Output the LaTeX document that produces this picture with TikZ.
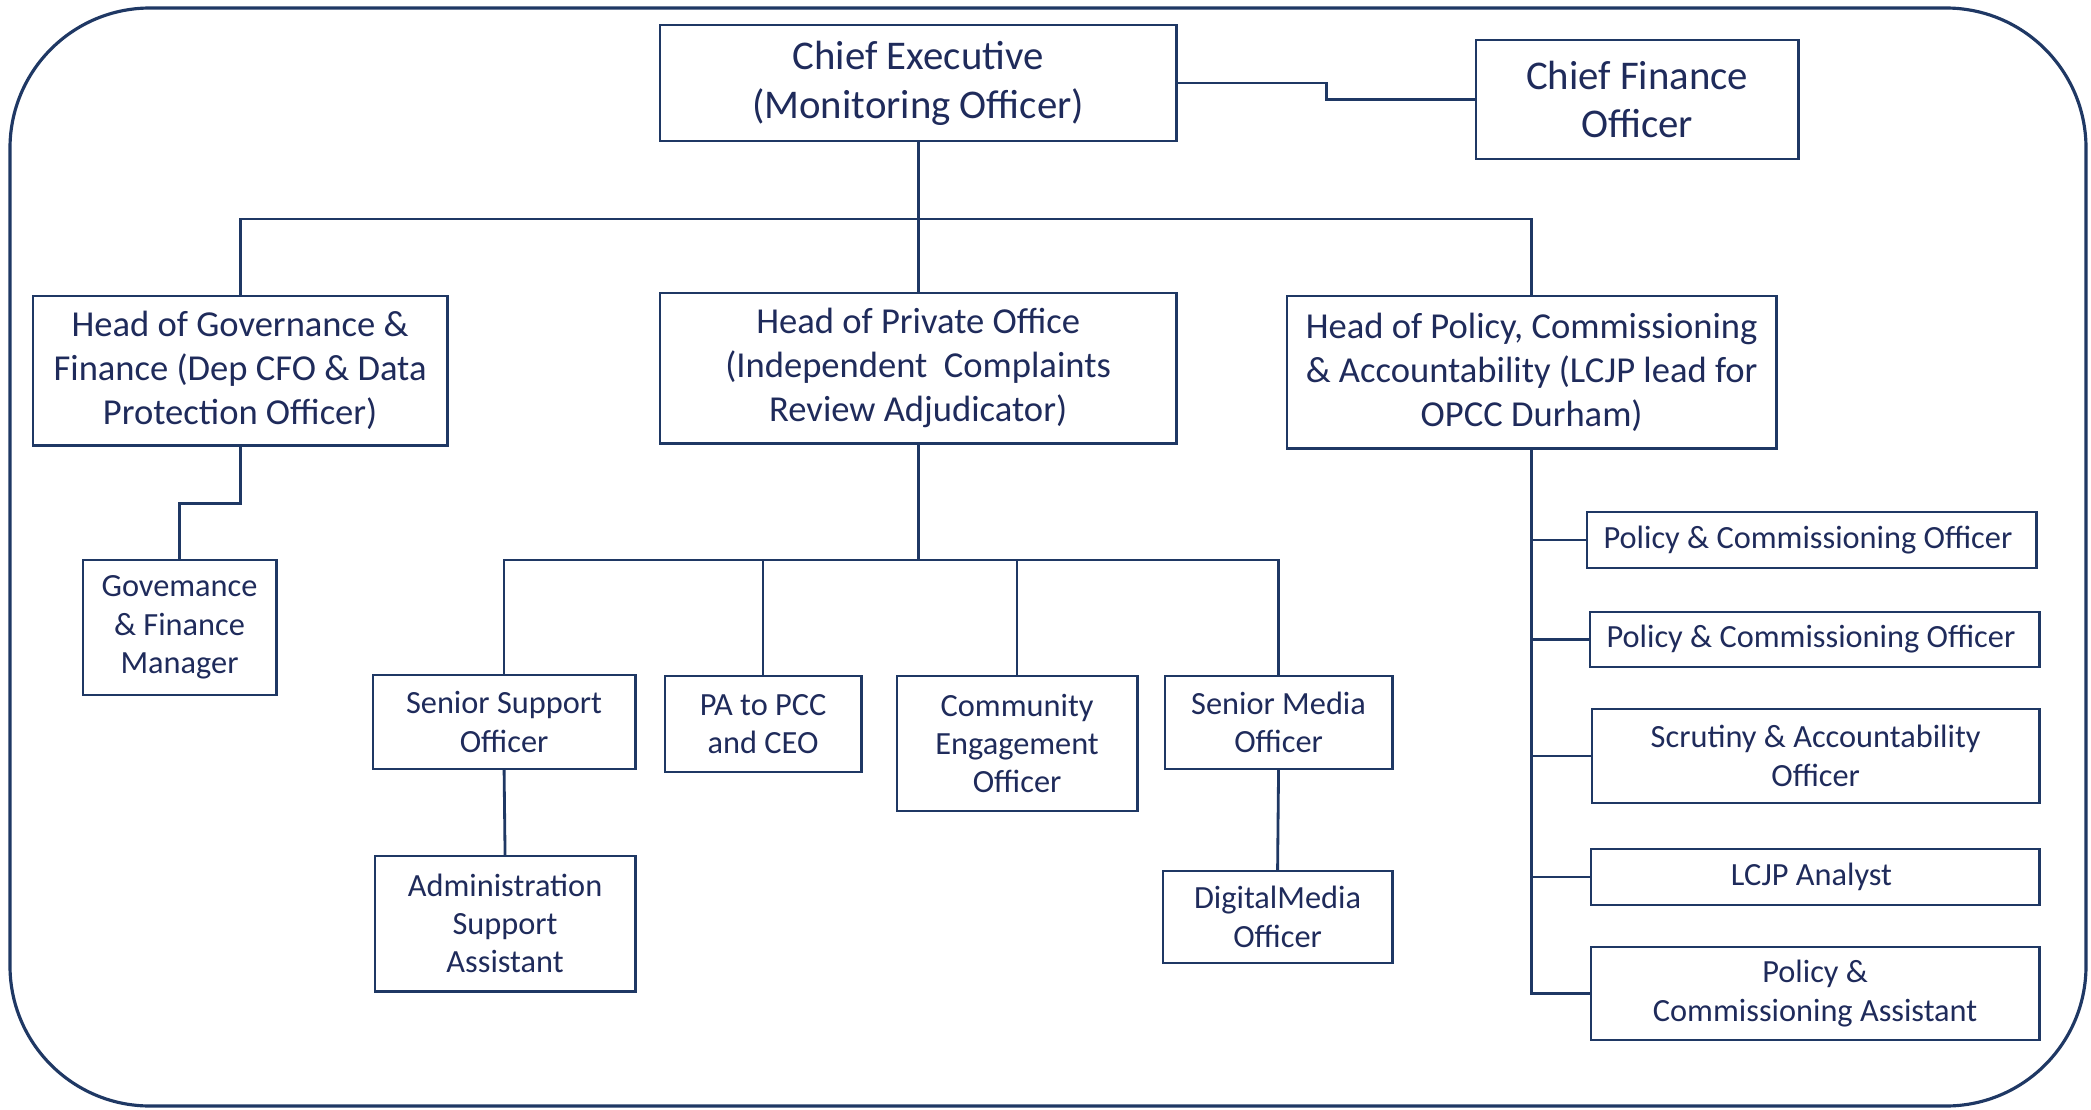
\documentclass[tikz,border=0pt]{standalone}
\usepackage{fontspec}
\setmainfont{Carlito}
\usetikzlibrary{calc,positioning}
\definecolor{navy}{HTML}{1F3864}
\definecolor{ink}{HTML}{1F2B5B}

\begin{document}
\begin{tikzpicture}[
        x=0.01cm,y=-0.01cm,
        post/.style={
          draw=navy,line width=0.8pt,
          text=ink,align=center,
          anchor=north west,
          inner sep=1pt,outer sep=0pt
        },
        chief/.style={font=\fontsize{11.6}{13.9}\selectfont},
        head/.style={font=\fontsize{10.4}{12.5}\selectfont},
        staff/.style={font=\fontsize{9.2}{10.9}\selectfont},
        link/.style={draw=navy,line width=0.8pt},
      ]
      \useasboundingbox (0,0) rectangle (2091,1109);
      \draw[navy,line width=0.9pt,rounded corners=1.4cm] (10,8) rectangle (2086,1106);

      % top row
      \node[post,chief,minimum width=5.16cm,minimum height=1.16cm] (ce) at (660,25) {
        Chief Executive\\(Monitoring Officer)
      };
      \node[post,chief,minimum width=3.22cm,minimum height=1.19cm] (cfo) at (1476,40) {
        Chief Finance\\Officer
      };

      % heads
      \node[post,head,minimum width=4.14cm,minimum height=1.49cm] (hog) at (33,296) {
        Head of Governance \&\\Finance (Dep CFO \& Data\\Protection Officer)
      };
      \node[post,head,minimum width=5.16cm,minimum height=1.50cm] (hpo) at (660,293) {
        Head of Private Office\\(Independent\ \ Complaints\\Review Adjudicator)
      };
      \node[post,head,minimum width=4.89cm,minimum height=1.52cm] (hop) at (1287,296) {
        Head of Policy, Commissioning\\\& Accountability (LCJP lead for\\OPCC Durham)
      };

      % governance
      \node[post,staff,minimum width=1.93cm,minimum height=1.35cm] (gfm) at (83,560) {
        Govemance\\\& Finance\\Manager
      };

      % private office
      \node[post,staff,minimum width=2.62cm,minimum height=0.94cm] (sso) at (373,675) {
        Senior Support\\Officer
      };
      \node[post,staff,minimum width=1.96cm,minimum height=0.96cm] (pa) at (665,676) {
        PA to PCC\\and CEO
      };
      \node[post,staff,minimum width=2.40cm,minimum height=1.35cm] (ceng) at (897,676) {
        Community\\Engagement\\Officer
      };
      \node[post,staff,minimum width=2.27cm,minimum height=0.93cm] (smo) at (1165,676) {
        Senior Media\\Officer
      };
      \node[post,staff,minimum width=2.60cm,minimum height=1.35cm] (asa) at (375,856) {
        Administration\\Support\\Assistant
      };
      \node[post,staff,minimum width=2.29cm,minimum height=0.92cm] (dmo) at (1163,871) {
        DigitalMedia\\Officer
      };

      % policy
      \node[post,staff,minimum width=4.49cm,minimum height=0.56cm] (pco1) at (1587,512) {
        Policy \& Commissioning Officer
      };
      \node[post,staff,minimum width=4.49cm,minimum height=0.55cm] (pco2) at (1590,612) {
        Policy \& Commissioning Officer
      };
      \node[post,staff,minimum width=4.47cm,minimum height=0.94cm] (sao) at (1592,709) {
        Scrutiny \& Accountability\\Officer
      };
      \node[post,staff,minimum width=4.48cm,minimum height=0.56cm] (lcjp) at (1591,849) {
        LCJP Analyst
      };
      \node[post,staff,minimum width=4.48cm,minimum height=0.93cm] (pca) at (1591,947) {
        Policy \&\\Commissioning Assistant
      };

      \coordinate (bus) at (ce.south |- 0,219);
      \coordinate (pbus) at (hpo.south |- 0,560);

      \draw[link] (ce.east) -- ++(150,0) |- (cfo.west);
      \draw[link] (ce.south) -- (hpo.north);
      \draw[link] (hog.north) |- (bus) -| (hop.north);
      \draw[link] (hog.south) -- ++(0,58) -| (gfm.north);

      \draw[link] (hpo.south) -- (pbus);
      \draw[link] (sso.north) |- (pbus) -| (smo.north);
      \draw[link] (pa.north) -- (pa.north |- pbus);
      \draw[link] (ceng.north) -- (ceng.north |- pbus);
      \draw[link] (sso.south) -- (asa.north);
      \draw[link] (smo.south) -- (dmo.north);

      \draw[link] (hop.south) |- (pca.west);
      \draw[link] (hop.south |- pco1.west) -- (pco1.west);
      \draw[link] (hop.south |- pco2.west) -- (pco2.west);
      \draw[link] (hop.south |- sao.west) -- (sao.west);
      \draw[link] (hop.south |- lcjp.west) -- (lcjp.west);
    \end{tikzpicture}
\end{document}
